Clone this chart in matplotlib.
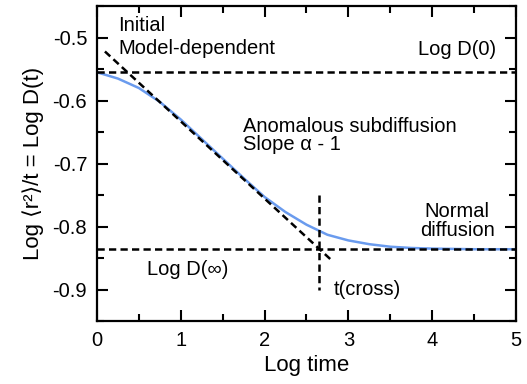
import matplotlib
matplotlib.use("Agg")
import matplotlib.pyplot as plt
from matplotlib.ticker import MultipleLocator

plt.rcParams["font.family"] = ["Liberation Sans", "DejaVu Sans"]

# curve
log_t = [0, 0.25, 0.5, 0.75, 1.0, 1.25, 1.5, 1.75, 2.0, 2.25, 2.5, 2.75,
         3.0, 3.25, 3.5, 3.75, 4.0, 4.5, 5.0]
log_d = [-0.555, -0.565, -0.580, -0.602, -0.630, -0.661, -0.692, -0.723,
         -0.753, -0.777, -0.797, -0.813, -0.822, -0.828, -0.832, -0.834,
         -0.835, -0.836, -0.836]

log_d0 = -0.555
log_dinf = -0.836
slope_x = [0.095, 2.82]
slope_y = [-0.522, -0.856]
t_cross = 2.65
cross_y = [-0.75, -0.90]

BLUE = "#6A9BEE"
DASH = dict(color="black", lw=1.8, dashes=(2.9, 1.7))
FS = 14.5

fig = plt.figure(figsize=(5.27, 3.84), dpi=100)
ax = fig.add_axes([0.184, 0.164, 0.795, 0.82])

ax.axhline(log_d0, **DASH)
ax.axhline(log_dinf, **DASH)
ax.plot(slope_x, slope_y, **DASH)
ax.plot([t_cross, t_cross], cross_y, **DASH)
ax.plot(log_t, log_d, color=BLUE, lw=1.8, zorder=1.5)

ax.text(0.25, -0.499, "Initial\nModel-dependent", fontsize=FS, va="center",
        linespacing=1.3)
ax.text(4.76, -0.519, "Log D(0)", fontsize=FS, va="center", ha="right")
ax.text(1.74, -0.656, "Anomalous subdiffusion\nSlope α - 1", fontsize=FS,
        va="center", linespacing=0.95)
ax.text(4.30, -0.791, "Normal\ndiffusion", fontsize=FS, va="center",
        ha="center", linespacing=1.0)
ax.text(0.60, -0.868, "Log D(∞)", fontsize=FS, va="center")
ax.text(2.83, -0.900, "t(cross)", fontsize=FS, va="center")

ax.set_xlim(0, 5)
ax.set_ylim(-0.95, -0.45)
ax.xaxis.set_major_locator(MultipleLocator(1))
ax.xaxis.set_minor_locator(MultipleLocator(0.5))
ax.yaxis.set_minor_locator(MultipleLocator(0.05))
ax.set_yticks([-0.9, -0.8, -0.7, -0.6, -0.5])
ax.set_yticklabels(["-0.9", "-0.8", "-0.7", "-0.6", "-0.5"])
ax.tick_params(which="both", direction="in", top=True, right=True,
               width=1.5, labelsize=FS)
ax.tick_params(which="major", length=8, pad=7)
ax.tick_params(which="minor", length=5)
for s in ax.spines.values():
    s.set_linewidth(1.6)

ax.set_xlabel("Log time", fontsize=16, labelpad=4)
ax.set_ylabel("Log ⟨r²⟩/t = Log D(t)", fontsize=16, labelpad=6)

fig.savefig("out.png", dpi=100)
